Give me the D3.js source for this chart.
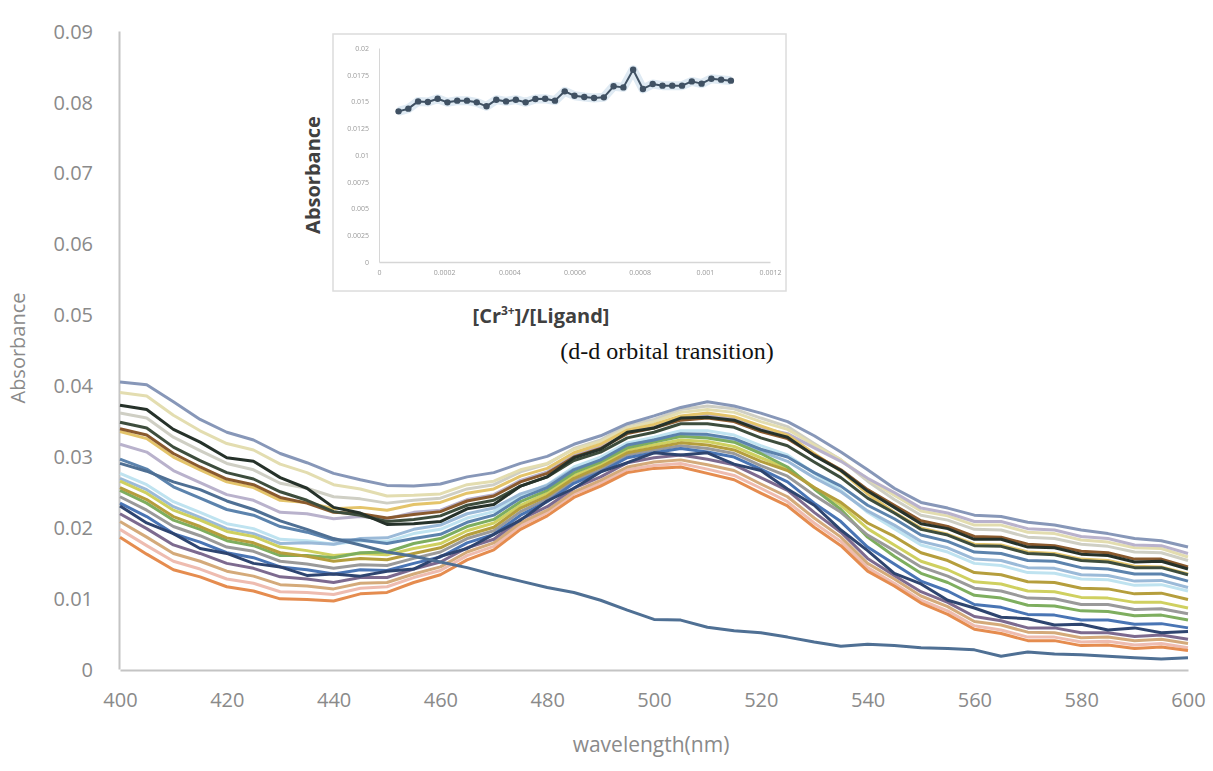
<!DOCTYPE html>
<html>
<head>
<meta charset="utf-8">
<script src="https://cdn.jsdelivr.net/npm/d3@7/dist/d3.min.js"></script>
<style>
  body { margin: 0; background: #fff; }
  .main-axis text { font-family: "Open Sans", sans-serif; font-size: 20px; fill: #8a8a8a; }
  .inset-axis text { font-family: "Open Sans", sans-serif; font-size: 7px; fill: #9a9a9a; }
</style>
</head>
<body>
<div class="chart"></div>
<script>
var svgWidth = 1213;
var svgHeight = 771;

// wavelength grid (nm)
var wavelengths = [400,405,410,415,420,425,430,435,440,445,450,455,460,465,470,475,480,485,490,495,
  500,505,510,515,520,525,530,535,540,545,550,555,560,565,570,575,580,585,590,595,600];

// spectra, absorbance x 10^4
var absUnit = 0.0001;
var ligandOnly = [290,279,264,253,237,225,209,197,184,175,165,159,151,143,133,124,115,108,97,83,70,69,59,54,51,45,38,32,35,33,30,29,27,18,24,21,20,18,16,14,16];
var s1  = [405,401,377,352,334,323,304,291,276,267,259,258,261,271,277,290,300,317,329,346,357,369,377,371,361,349,329,306,281,255,235,227,217,215,207,203,196,191,184,181,172];
var s2  = [390,385,358,336,318,309,289,277,260,254,244,245,247,260,265,281,290,310,321,340,349,362,366,362,349,338,316,295,268,245,223,216,203,203,193,191,182,179,171,170,158];
var s3  = [372,366,338,320,298,293,270,255,228,220,204,205,208,226,232,258,271,298,310,334,340,354,355,351,337,327,301,280,251,228,205,198,183,183,172,171,162,160,151,152,141];
var s4  = [361,354,327,308,290,281,262,255,243,240,234,238,241,254,260,278,289,311,323,344,352,366,371,367,354,342,318,295,265,239,217,210,197,196,186,184,176,173,165,164,153];
var s5  = [348,340,313,294,277,268,250,238,222,217,208,211,216,231,238,258,271,294,306,326,334,346,346,341,326,315,292,270,241,220,197,189,174,173,163,161,153,151,143,143,133];
var s6  = [335,325,299,281,264,256,238,235,226,228,224,232,235,248,254,272,283,305,317,337,345,357,361,356,343,330,304,279,247,221,199,190,176,175,165,163,155,153,145,144,134];
var s7  = [317,306,280,263,246,238,221,219,212,215,212,221,224,239,246,266,278,301,314,334,343,355,358,353,340,332,312,293,269,249,227,220,208,208,198,196,187,184,175,174,163];
var s8  = [339,330,304,285,268,260,242,234,221,219,213,218,222,237,244,264,276,299,311,332,340,351,354,349,335,325,302,281,253,231,209,201,187,186,176,174,166,164,155,155,144];
var s9  = [296,282,257,241,225,217,201,193,182,182,177,184,190,207,217,241,256,281,295,316,323,332,331,325,310,299,277,258,231,212,189,180,165,163,153,152,143,141,134,134,124];
var s10 = [276,260,236,221,205,198,183,181,176,181,180,191,197,213,222,245,260,285,299,319,327,336,336,330,315,302,276,252,221,198,175,165,149,146,136,135,127,126,118,119,110];
var s11 = [265,248,224,210,194,187,172,167,160,163,161,170,177,195,206,231,248,273,288,309,316,323,321,314,298,283,256,231,198,175,152,140,123,120,110,109,101,100,94,94,86];
var s12 = [256,239,215,201,185,178,164,159,152,156,154,163,171,189,200,227,244,269,285,305,312,319,316,309,293,280,256,235,206,187,164,153,136,133,123,122,114,113,106,107,98];
var s13 = [243,224,201,188,172,166,152,148,142,147,146,156,165,184,195,222,240,266,281,302,309,315,311,304,287,272,245,221,189,167,144,131,114,110,100,99,91,91,84,85,78];
var s14 = [234,215,191,179,164,157,144,140,134,140,139,149,158,178,190,217,236,262,278,298,305,311,306,299,282,264,234,208,172,148,124,110,91,87,77,76,69,69,63,64,58];
var s15 = [230,206,191,170,163,149,144,132,134,131,138,141,159,170,190,210,237,255,278,291,305,302,305,289,280,254,231,196,167,135,120,97,86,73,71,62,63,55,58,51,53];
var s16 = [219,198,175,163,149,142,130,127,122,129,129,141,151,171,183,211,229,255,271,291,298,302,296,288,270,252,221,193,156,132,109,94,74,68,58,58,51,51,46,48,42];
var s17 = [208,186,163,152,138,131,119,117,113,121,122,134,144,165,178,206,224,250,266,285,292,295,288,280,261,243,213,186,149,127,103,88,67,62,52,51,44,45,40,42,36];
var s18 = [197,174,152,141,127,121,109,108,105,114,116,129,139,160,173,202,221,247,262,281,287,290,282,273,255,236,206,180,143,121,97,82,61,55,45,45,38,39,34,36,30];
var s19 = [186,162,140,130,116,110,99,98,96,106,108,122,133,154,168,197,216,242,258,277,283,285,276,267,248,230,200,174,138,117,93,77,56,50,40,40,33,34,29,31,26];
var s20 = [252,234,210,197,181,174,160,160,157,164,165,177,184,201,211,236,252,277,292,312,320,328,326,320,304,285,254,225,186,159,135,122,104,100,90,89,82,81,75,76,69];
var s21 = [269,253,229,214,198,191,177,178,176,184,185,197,203,219,227,247,259,282,294,315,323,331,329,323,307,293,270,250,223,203,180,171,155,153,143,142,133,132,124,125,115];

// drawing order (light ones first, dark ones last)
var spectra = [s4, s2, s10, s7, s18, s21, s6, s11, s17, s20, s13, s12, s16, s1, s9, s14, s19, s8, s5, s15, s3, ligandOnly];
var spectrumColors = ["#cfcfc4", "#e3ddb0", "#bfe3f0", "#b9b2cc", "#eebcb0", "#9bbad8", "#e4c46a", "#cfd060",
  "#d4aa7a", "#7eae5e", "#9a9a9a", "#b59e3c", "#7d6b8f", "#8797b8", "#5b83ad", "#4a74b4", "#e58c4f",
  "#8a5a2e", "#3e4e3c", "#2e4470", "#26322a", "#4f6f94"];

var yTickValues = [0, 0.01, 0.02, 0.03, 0.04, 0.05, 0.06, 0.07, 0.08, 0.09];
var yTickLabels = ["0", "0.01", "0.02", "0.03", "0.04", "0.05", "0.06", "0.07", "0.08", "0.09"];
var xTickValues = [400, 420, 440, 460, 480, 500, 520, 540, 560, 580, 600];

// inset: absorbance vs [Cr3+]/[Ligand]
var insetRatio = [0.00006,0.00009,0.00012,0.00015,0.00018,0.00021,0.00024,0.00027,0.0003,0.00033,
  0.00036,0.00039,0.00042,0.00045,0.00048,0.00051,0.00054,0.00057,0.0006,0.00063,0.00066,0.00069,
  0.00072,0.00075,0.00078,0.00081,0.00084,0.00087,0.0009,0.00093,0.00096,0.00099,0.00102,0.00105,0.00108];
var insetAbs = [0.01408,0.01433,0.01501,0.01495,0.01526,0.01492,0.01508,0.01508,0.01492,0.01455,
  0.01517,0.01501,0.01517,0.01492,0.01523,0.01526,0.01508,0.01595,0.01554,0.01542,0.01533,0.01539,
  0.01642,0.01632,0.01797,0.01617,0.01663,0.01648,0.01648,0.01648,0.01688,0.01667,0.01713,0.01704,0.01695];
var insetYTicks = [0, 0.0025, 0.005, 0.0075, 0.01, 0.0125, 0.015, 0.0175, 0.02];
var insetYLabels = ["0", "0.0025", "0.005", "0.0075", "0.01", "0.0125", "0.015", "0.0175", "0.02"];
var insetXTicks = [0, 0.0002, 0.0004, 0.0006, 0.0008, 0.001, 0.0012];
var insetXLabels = ["0", "0.0002", "0.0004", "0.0006", "0.0008", "0.001", "0.0012"];

var svg = d3.select(".chart")
  .append("svg")
  .attr("width", svgWidth)
  .attr("height", svgHeight);

svg.append("rect").attr("width", svgWidth).attr("height", svgHeight).attr("fill", "#fff");

var defs = svg.append("defs");
defs.append("filter").attr("id", "soft")
  .append("feGaussianBlur").attr("stdDeviation", 0.7);

// main scales
var xScale = d3.scaleLinear().domain([400, 600]).range([120, 1188]);
var yScale = d3.scaleLinear().domain([0, 0.09]).range([669, 31]);

var leftAxis = d3.axisLeft(yScale)
  .tickValues(yTickValues)
  .tickFormat((d, i) => yTickLabels[i])
  .tickSize(0)
  .tickSizeOuter(0)
  .tickPadding(26);

var bottomAxis = d3.axisBottom(xScale)
  .tickValues(xTickValues)
  .tickFormat(d => d)
  .tickSize(0)
  .tickSizeOuter(0)
  .tickPadding(23);

var yAxis = svg.append("g")
  .attr("class", "main-axis")
  .attr("transform", "translate(119, 0)")
  .call(leftAxis);

var xAxis = svg.append("g")
  .attr("class", "main-axis")
  .attr("transform", "translate(0, 670)")
  .call(bottomAxis);

yAxis.select(".domain").attr("stroke", "#c4c4c4").attr("stroke-width", 2);
xAxis.select(".domain").attr("stroke", "#c4c4c4").attr("stroke-width", 2);
yAxis.selectAll(".tick text").attr("dy", "0.36em");

// spectra
var spectrumLine = d3.line()
  .x((d, i) => xScale(wavelengths[i]))
  .y(d => yScale(d * absUnit));

var linesGroup = svg.append("g").attr("filter", "url(#soft)");

linesGroup.selectAll("path")
  .data(spectra)
  .enter()
  .append("path")
  .attr("d", d => spectrumLine(d))
  .attr("fill", "none")
  .attr("stroke", (d, i) => spectrumColors[i])
  .attr("stroke-width", 3)
  .attr("stroke-linejoin", "round");

// axis titles
svg.append("text")
  .attr("transform", "translate(25, 348) rotate(-90)")
  .attr("text-anchor", "middle")
  .attr("font-family", "Open Sans, sans-serif")
  .attr("font-size", 20)
  .attr("fill", "#8a8a8a")
  .text("Absorbance");

svg.append("text")
  .attr("x", 651)
  .attr("y", 752)
  .attr("text-anchor", "middle")
  .attr("font-family", "Open Sans, sans-serif")
  .attr("font-size", 21)
  .attr("fill", "#8a8a8a")
  .text("wavelength(nm)");

// inset chart
var inset = svg.append("g").attr("filter", "url(#soft)");

inset.append("rect")
  .attr("x", 333)
  .attr("y", 34)
  .attr("width", 453)
  .attr("height", 257)
  .attr("fill", "#fff")
  .attr("stroke", "#dcdcdc")
  .attr("stroke-width", 1.5);

var ixScale = d3.scaleLinear().domain([0, 0.0012]).range([379, 770]);
var iyScale = d3.scaleLinear().domain([0, 0.02]).range([262, 48]);

var insetLeft = d3.axisLeft(iyScale)
  .tickValues(insetYTicks)
  .tickFormat((d, i) => insetYLabels[i])
  .tickSize(0)
  .tickSizeOuter(0)
  .tickPadding(10);

var insetBottom = d3.axisBottom(ixScale)
  .tickValues(insetXTicks)
  .tickFormat((d, i) => insetXLabels[i])
  .tickSize(0)
  .tickSizeOuter(0)
  .tickPadding(8);

var iyAxis = inset.append("g")
  .attr("class", "inset-axis")
  .attr("transform", "translate(379, 0)")
  .call(insetLeft);

var ixAxis = inset.append("g")
  .attr("class", "inset-axis")
  .attr("transform", "translate(0, 262)")
  .call(insetBottom);

iyAxis.select(".domain").attr("stroke", "#d6d6d6").attr("stroke-width", 1);
ixAxis.select(".domain").attr("stroke", "#d6d6d6").attr("stroke-width", 1.5);

var insetLine = d3.line()
  .x((d, i) => ixScale(insetRatio[i]))
  .y(d => iyScale(d));

// soft halo behind the series
inset.append("path")
  .attr("d", insetLine(insetAbs))
  .attr("fill", "none")
  .attr("stroke", "#dfeaf3")
  .attr("stroke-width", 9)
  .attr("stroke-linejoin", "round");

inset.append("path")
  .attr("d", insetLine(insetAbs))
  .attr("fill", "none")
  .attr("stroke", "#3f5163")
  .attr("stroke-width", 2)
  .attr("stroke-linejoin", "round");

inset.selectAll("circle")
  .data(insetAbs)
  .enter()
  .append("circle")
  .attr("cx", (d, i) => ixScale(insetRatio[i]))
  .attr("cy", d => iyScale(d))
  .attr("r", 3.2)
  .attr("fill", "#3f5163");

svg.append("text")
  .attr("transform", "translate(320, 175) rotate(-90)")
  .attr("text-anchor", "middle")
  .attr("font-family", "Open Sans, sans-serif")
  .attr("font-weight", "bold")
  .attr("font-size", 20)
  .attr("fill", "#404040")
  .text("Absorbance");

var crLabel = svg.append("text")
  .attr("x", 541)
  .attr("y", 323)
  .attr("text-anchor", "middle")
  .attr("font-family", "Open Sans, sans-serif")
  .attr("font-weight", "bold")
  .attr("font-size", 20)
  .attr("fill", "#404040");
crLabel.append("tspan").text("[Cr");
crLabel.append("tspan").attr("font-size", 12).attr("dy", -8).text("3+");
crLabel.append("tspan").attr("dy", 8).text("]/[Ligand]");

svg.append("text")
  .attr("x", 667)
  .attr("y", 359)
  .attr("text-anchor", "middle")
  .attr("font-family", "Liberation Serif, Times New Roman, serif")
  .attr("font-size", 24)
  .attr("fill", "#111")
  .text("(d-d orbital transition)");
</script>
</body>
</html>
